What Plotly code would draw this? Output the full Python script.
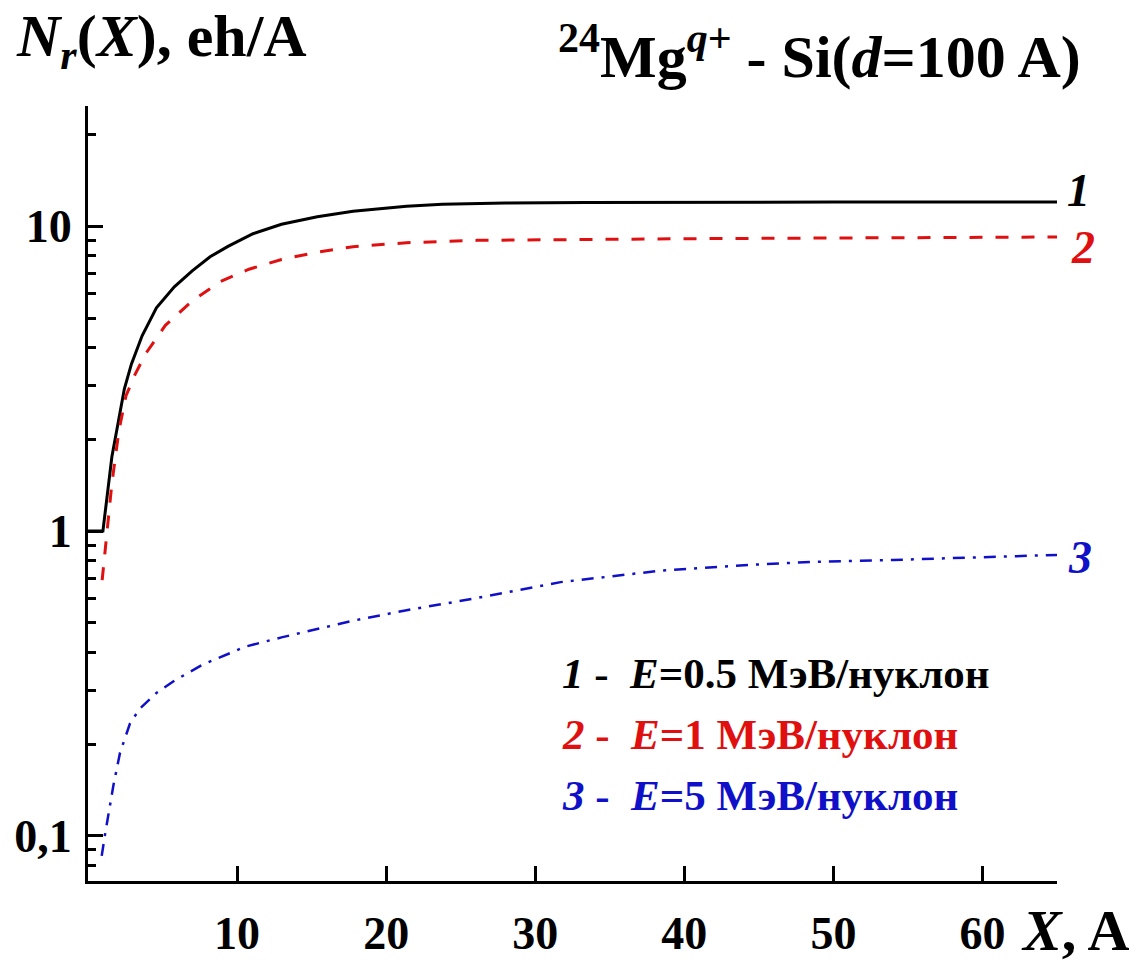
import plotly.graph_objects as go

# Curve 1: E = 0.5 MeV/nucleon
x1 = [0, 1.0, 1.6, 2.07, 2.44, 2.91, 3.63, 4.59, 5.79, 6.99, 8.19, 9.39, 11.07, 12.98, 15.38, 17.78, 21.37, 23.77, 28, 33.4, 40, 50, 65]
y1 = [1.0, 1.0, 1.75, 2.31, 2.93, 3.53, 4.37, 5.40, 6.33, 7.14, 7.94, 8.59, 9.45, 10.15, 10.75, 11.2, 11.62, 11.8, 11.92, 11.97, 12.0, 12.0, 12.0]

# Curve 2: E = 1 MeV/nucleon
x2 = [0.95, 1.24, 1.6, 2.07, 2.55, 3.15, 3.87, 5.19, 6.99, 8.9, 10.8, 12.98, 15.38, 17.78, 21.37, 26.1, 33.4, 40, 50, 65]
y2 = [0.69, 0.96, 1.43, 2.13, 2.78, 3.26, 3.82, 4.73, 5.69, 6.59, 7.23, 7.78, 8.22, 8.57, 8.83, 8.99, 9.06, 9.1, 9.15, 9.22]

# Curve 3: E = 5 MeV/nucleon
x3 = [0.92, 1.14, 1.70, 2.15, 2.82, 3.49, 4.61, 5.79, 7.71, 10.58, 12.98, 17.78, 21.37, 26.17, 31.7, 38.4, 44.0, 48.5, 54.0, 59.6, 65.0]
y3 = [0.086, 0.101, 0.146, 0.1875, 0.234, 0.262, 0.295, 0.323, 0.365, 0.418, 0.448, 0.508, 0.55, 0.604, 0.68, 0.741, 0.773, 0.792, 0.804, 0.818, 0.835]

x_ticks = [10, 20, 30, 40, 50, 60]
y_ticks = [0.1, 1, 10]
y_tick_text = ["0,1", "1", "10"]
y_minor = [0.08, 0.09, 0.2, 0.3, 0.4, 0.5, 0.6, 0.7, 0.8, 0.9, 2, 3, 4, 5, 6, 7, 8, 9, 20]

legend_lines = [
    ("<i>1</i> -  <i>E</i>=0.5 МэВ/нуклон", "black"),
    ("<i>2</i> -  <i>E</i>=1 МэВ/нуклон", "#e01010"),
    ("<i>3</i> -  <i>E</i>=5 МэВ/нуклон", "#1010c8"),
]

FONT = "Liberation Serif"
RED = "#e01010"
BLUE = "#1010c8"

fig = go.Figure()
fig.add_trace(go.Scatter(x=x1, y=y1, mode="lines", line=dict(color="black", width=3), showlegend=False))
fig.add_trace(go.Scatter(x=x2, y=y2, mode="lines", line=dict(color=RED, width=3, dash="13px,13px"), showlegend=False))
fig.add_trace(go.Scatter(x=x3, y=y3, mode="lines", line=dict(color=BLUE, width=2.5, dash="12px,8px,3px,8px"), showlegend=False))

fig.update_layout(
    width=1137, height=971,
    margin=dict(l=88, r=80, t=106, b=77),
    paper_bgcolor="white", plot_bgcolor="white",
    font=dict(family=FONT, color="black"),
    xaxis=dict(
        range=[0, 65], showgrid=False, zeroline=False,
        showline=True, linecolor="black", linewidth=3,
        tickmode="array", tickvals=x_ticks,
        ticks="inside", ticklen=15, tickwidth=2.5, tickcolor="black",
        tickfont=dict(family=FONT, size=46, weight="bold", color="black"),
        ticklabelstandoff=10,
    ),
    yaxis=dict(
        type="log", range=[-1.148, 1.3945], showgrid=False, zeroline=False,
        showline=True, linecolor="black", linewidth=3,
        tickmode="array", tickvals=y_ticks, ticktext=y_tick_text,
        ticks="inside", ticklen=15, tickwidth=2.5, tickcolor="black",
        tickfont=dict(family=FONT, size=46, weight="bold", color="black"),
        ticklabelstandoff=4,
        minor=dict(ticks="inside", ticklen=8, tickwidth=2.5, tickcolor="black",
                   tickmode="array", tickvals=y_minor, showgrid=False),
    ),
)

annotations = [
    dict(text="<b><i>N</i><sub><i>r</i></sub>(<i>X</i>), eh/A</b>", x=14, y=80,
         xanchor="left", yanchor="bottom", font=dict(size=60)),
    dict(text="<b><sup>24</sup>Mg<sup><i>q</i>+</sup> - Si(<i>d</i>=100 A)</b>", x=556, y=92,
         xanchor="left", yanchor="bottom", font=dict(size=60)),
    dict(text="<b><i>X</i>, A</b>", x=1075, y=944, xanchor="center", yanchor="middle", font=dict(size=58)),
    dict(text="<b><i>1</i></b>", x=1078, y=192, xanchor="center", yanchor="middle", font=dict(size=46, color="black")),
    dict(text="<b><i>2</i></b>", x=1083, y=250, xanchor="center", yanchor="middle", font=dict(size=46, color=RED)),
    dict(text="<b><i>3</i></b>", x=1080, y=565, xanchor="center", yanchor="middle", font=dict(size=46, color=BLUE)),
]
for i, (txt, col) in enumerate(legend_lines):
    annotations.append(dict(text="<b>" + txt + "</b>", x=560, y=683 + 62 * i, xanchor="left", yanchor="middle",
                            font=dict(size=43, color=col)))

fig.update_layout(annotations=[
    dict(a, xref="paper", yref="paper", showarrow=False,
         x=(a["x"] - 88) / (1057 - 88), y=(894 - a["y"]) / (894 - 106),
         font=dict(family=FONT, color=a["font"].get("color", "black"), size=a["font"]["size"]))
    for a in annotations
])

fig.write_html("out.html")
